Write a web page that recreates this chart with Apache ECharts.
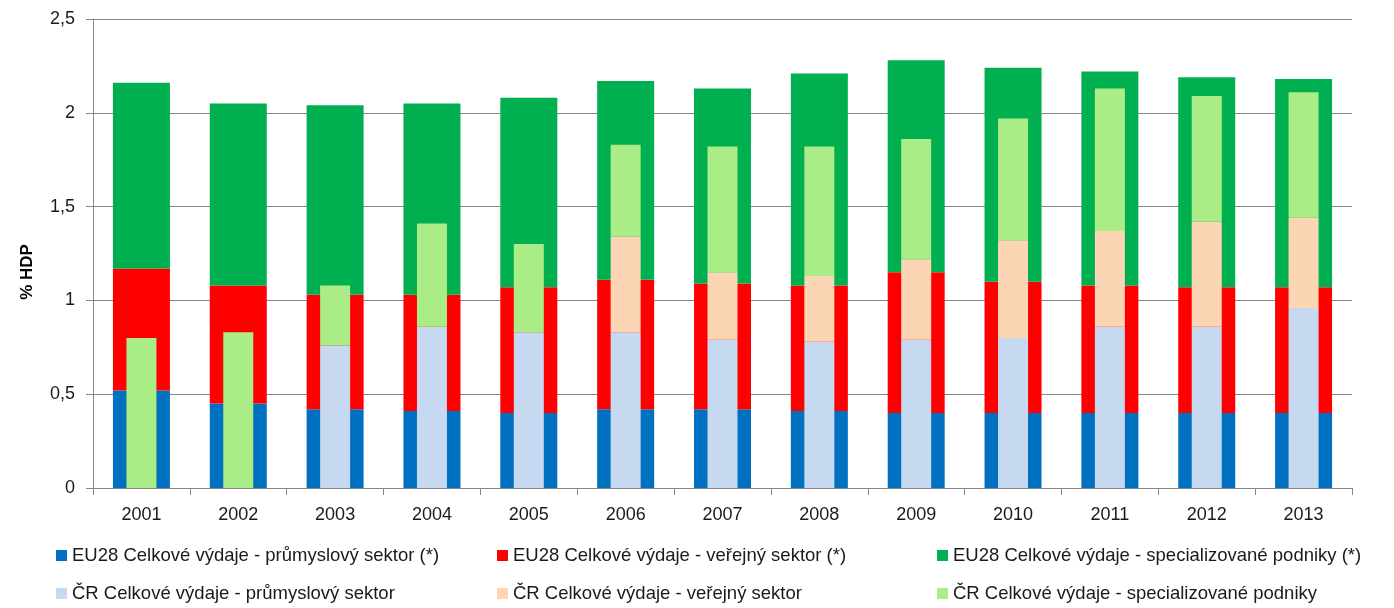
<!DOCTYPE html>
<html><head><meta charset="utf-8">
<script src="https://cdn.jsdelivr.net/npm/echarts@6/dist/echarts.min.js"></script>
<style>html,body{margin:0;padding:0;background:#fff}#c{width:1394px;height:608px}</style>
</head><body><div id="c"></div>
<script>
const years = ['2001','2002','2003','2004','2005','2006','2007','2008','2009','2010','2011','2012','2013'];
const yTicks = [0, 0.5, 1, 1.5, 2, 2.5];
const euIndustry = [0.52,0.45,0.42,0.41,0.40,0.42,0.42,0.41,0.40,0.40,0.40,0.40,0.40];
const euPublic   = [0.65,0.63,0.61,0.62,0.67,0.69,0.67,0.67,0.75,0.70,0.68,0.67,0.67];
const euSpecial  = [0.99,0.97,1.01,1.02,1.01,1.06,1.04,1.13,1.13,1.14,1.14,1.12,1.11];
const crIndustry = [0,0,0.76,0.86,0.83,0.83,0.79,0.78,0.79,0.80,0.86,0.86,0.96];
const crPublic   = [0,0,0,0,0,0.51,0.36,0.35,0.43,0.52,0.51,0.56,0.48];
const crSpecial  = [0.80,0.83,0.32,0.55,0.47,0.49,0.67,0.69,0.64,0.65,0.76,0.67,0.67];
const names = {
  euI: 'EU28 Celkové výdaje - průmyslový sektor (*)',
  euP: 'EU28 Celkové výdaje - veřejný sektor (*)',
  euS: 'EU28 Celkové výdaje - specializované podniky (*)',
  crI: 'ČR Celkové výdaje - průmyslový sektor',
  crP: 'ČR Celkové výdaje - veřejný sektor',
  crS: 'ČR Celkové výdaje - specializované podniky'
};
const FONT = '"Liberation Sans", Arial, sans-serif';
const txt = '#1a1a1a';
const gridCol = '#868686';
function leg(name, left, top){
  return {data:[name], left:left, top:top, itemWidth:11, itemHeight:11, icon:'rect',
    textStyle:{fontFamily:FONT, fontSize:18.5, color:txt}, itemGap:0, padding:0, selectedMode:false};
}
const chart = echarts.init(document.getElementById('c'), null, {renderer:'canvas'});
chart.setOption({
  animation:false,
  backgroundColor:'#fff',
  textStyle:{fontFamily:FONT},
  grid:{left:93, right:42, top:19, bottom:120, containLabel:false},
  xAxis:[
    {type:'category', data:years, boundaryGap:true,
     axisLine:{lineStyle:{color:gridCol, width:1}},
     axisTick:{show:true, alignWithLabel:false, length:7, lineStyle:{color:gridCol}},
     axisLabel:{fontFamily:FONT, fontSize:18, color:txt, margin:18}},
    {type:'category', data:years, show:false}
  ],
  yAxis:{type:'value', min:yTicks[0], max:yTicks[yTicks.length-1], interval:0.5,
    name:'% HDP', nameLocation:'middle', nameGap:57, nameRotate:90,
    nameTextStyle:{fontFamily:FONT, fontSize:17, fontWeight:'bold', color:'#000', padding:[0,37,0,0]},
    axisLine:{show:true, lineStyle:{color:gridCol}},
    axisTick:{show:true, length:7, lineStyle:{color:gridCol}},
    splitLine:{lineStyle:{color:gridCol, width:1}},
    axisLabel:{fontFamily:FONT, fontSize:18, color:txt, margin:18,
      formatter:v=>String(v).replace('.', ',')}},
  legend:[
    leg(names.euI, 56, 546), leg(names.crI, 56, 584),
    leg(names.euP, 497, 546), leg(names.crP, 497, 584),
    leg(names.euS, 937, 546), leg(names.crS, 937, 584)
  ],
  series:[
    {name:names.euI, type:'bar', stack:'eu', xAxisIndex:0, barWidth:57, data:euIndustry, itemStyle:{color:'#0070C0'}},
    {name:names.euP, type:'bar', stack:'eu', xAxisIndex:0, barWidth:57, data:euPublic, itemStyle:{color:'#FF0000'}},
    {name:names.euS, type:'bar', stack:'eu', xAxisIndex:0, barWidth:57, data:euSpecial, itemStyle:{color:'#00B050'}},
    {name:names.crI, type:'bar', stack:'cr', xAxisIndex:1, barWidth:30, data:crIndustry, itemStyle:{color:'#C6D9F1'}},
    {name:names.crP, type:'bar', stack:'cr', xAxisIndex:1, barWidth:30, data:crPublic, itemStyle:{color:'#FCD5B5'}},
    {name:names.crS, type:'bar', stack:'cr', xAxisIndex:1, barWidth:30, data:crSpecial, itemStyle:{color:'#AAEC86'}}
  ]
});
</script></body></html>
